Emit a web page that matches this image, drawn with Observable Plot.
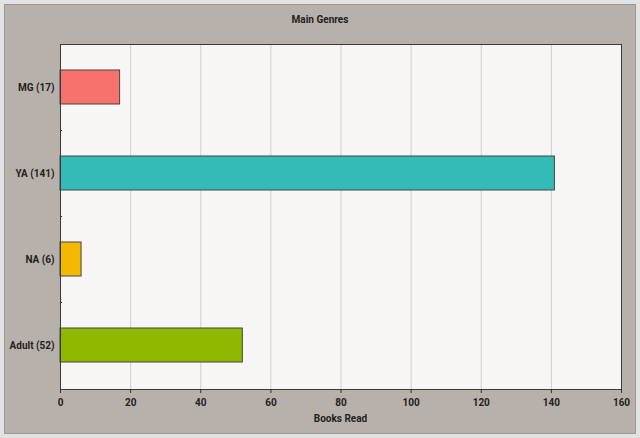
<!DOCTYPE html>
<html>
<head>
<meta charset="utf-8">
<script src="https://cdn.jsdelivr.net/npm/d3@7"></script>
<script src="https://cdn.jsdelivr.net/npm/@observablehq/plot@0.6"></script>
<style>
  html, body { margin: 0; padding: 0; background: #e2e2e2; }
  #chart svg { display: block; }
</style>
</head>
<body>
<div id="chart"></div>
<script>
const categories = ["MG (17)", "YA (141)", "NA (6)", "Adult (52)"];
const values = [17, 141, 6, 52];
const colors = ["#f7716d", "#33bcb7", "#f4b800", "#8fb800"];
const xTicks = [0, 20, 40, 60, 80, 100, 120, 140, 160];
const title = "Main Genres";
const xLabel = "Books Read";

const data = categories.map((c, i) => ({genre: c, value: values[i], color: colors[i]}));

const W = 640, H = 438;
const FONT = "Roboto, 'Liberation Sans', Arial, sans-serif";
const plot = Plot.plot({
  width: W,
  height: H,
  marginLeft: 60,
  marginRight: 19,
  marginTop: 44,
  marginBottom: 49,
  style: {background: "transparent", fontFamily: FONT, fontSize: "10px", fontWeight: 700, color: "#222"},
  x: {domain: [0, 160], ticks: xTicks, tickSize: 4, tickPadding: 5, label: null},
  y: {domain: categories, paddingInner: 0.6, paddingOuter: 0.3, label: null, tickSize: 0, tickPadding: 6},
  marks: [
    Plot.frame({fill: "#f7f6f5", stroke: null}),
    Plot.ruleX(xTicks.slice(1, -1), {stroke: "#cfcfcf", strokeWidth: 1}),
    Plot.ruleY(categories.slice(1), {y: d => d, x1: 0, x2: 0.6, dy: -43, stroke: "#333"}),
    Plot.barX(data, {y: "genre", x: "value", fill: "color", stroke: "#444", strokeWidth: 1}),
    Plot.frame({stroke: "#3a3a3a", strokeWidth: 1}),
    Plot.axisX({ticks: xTicks, tickSize: 4, tickPadding: 5, label: null, stroke: "#333"}),
    Plot.axisY({tickSize: 0, tickPadding: 6, label: null})
  ]
});

const svg = d3.select(plot);
svg.insert("rect", ":first-child")
  .attr("x", 4.5).attr("y", 4.5).attr("width", W - 9).attr("height", H - 9)
  .attr("fill", "#b8b1ab").attr("stroke", "#9c9792");
svg.append("text")
  .attr("x", W / 2).attr("y", 23)
  .attr("text-anchor", "middle")
  .attr("fill", "#222")
  .style("font-size", "10px")
  .text(title);
svg.append("text")
  .attr("x", (60 + W - 19) / 2).attr("y", 422)
  .attr("text-anchor", "middle")
  .attr("fill", "#222")
  .style("font-size", "10px")
  .text(xLabel);

document.getElementById("chart").append(plot);
</script>
</body>
</html>
